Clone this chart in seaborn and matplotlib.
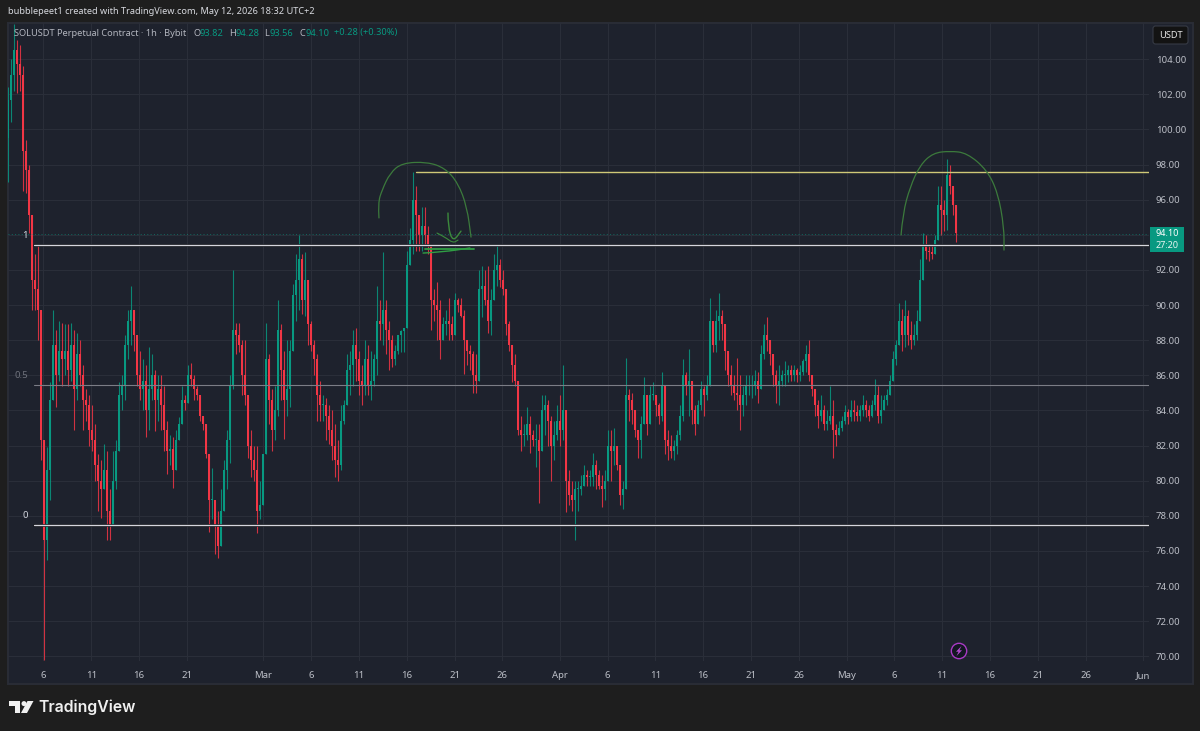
import numpy as np
import pandas as pd
import seaborn as sns
import matplotlib
matplotlib.use("Agg")
import matplotlib.pyplot as plt
import matplotlib.dates as mdates
import matplotlib.patheffects as pe
from matplotlib.patches import Rectangle, Polygon, Circle, FancyBboxPatch, PathPatch
from matplotlib.path import Path
from matplotlib.transforms import Bbox

# SOLUSDT candles, sampled every 452 minutes from the start of the visible range
highs = [
    102.4,104.0,106.0,105.1,104.8,103.6,99.4,98.0,94.4,
    92.9,93.4,88.0,81.6,81.9,85.6,89.7,88.6,89.1,89.0,
    88.9,88.9,89.0,88.6,88.4,88.0,86.6,85.2,84.9,
    84.3,83.2,81.5,81.2,82.1,81.7,79.5,81.7,82.3,
    85.6,86.0,88.3,89.7,91.1,89.4,88.3,87.4,86.9,
    86.6,87.6,87.2,86.3,86.0,86.0,85.4,83.4,82.6,
    82.5,82.9,83.6,85.4,84.9,86.6,86.7,86.0,85.4,
    84.9,83.7,83.2,81.2,80.7,78.9,78.3,79.5,81.2,
    82.9,86.0,92.0,89.0,89.0,88.0,88.0,84.6,82.9,
    82.0,82.0,80.0,81.3,89.0,87.2,85.2,85.4,90.3,
    88.9,87.4,88.0,88.0,91.2,92.9,94.0,92.9,93.0,
    89.9,89.1,88.0,87.2,85.7,84.9,84.7,84.3,84.0,
    83.2,82.3,84.3,84.6,87.2,87.4,88.6,88.7,87.4,
    86.6,88.0,87.7,87.4,87.2,91.1,90.3,93.0,90.3,
    89.1,88.3,87.7,88.3,88.6,88.7,93.1,94.4,97.6,
    96.8,95.1,95.6,95.6,94.5,93.4,90.9,91.3,90.3,
    89.3,89.7,90.4,89.4,90.7,90.4,90.4,89.7,88.0,
    87.7,87.4,87.2,92.0,92.2,92.0,92.2,90.9,92.9,
    93.4,92.6,92.0,90.9,89.1,87.7,87.2,85.7,83.7,
    83.2,84.2,83.7,82.9,83.2,83.2,84.9,84.9,84.6,
    83.7,83.4,84.3,84.9,86.6,83.2,80.6,80.0,80.0,
    80.0,80.3,80.9,80.6,80.6,81.6,81.2,80.6,80.3,
    80.6,82.9,82.9,83.0,82.0,80.9,80.0,87.0,85.2,
    85.0,84.0,82.9,83.7,85.9,84.9,85.4,85.6,84.9,
    84.4,86.2,85.4,82.9,82.6,82.3,82.9,84.3,86.9,
    86.2,87.5,85.7,84.3,84.6,85.7,85.4,86.0,90.4,
    89.1,89.7,90.7,89.7,88.6,86.9,86.6,86.0,87.0,
    86.0,85.4,86.0,86.0,86.0,86.3,86.2,87.7,88.9,
    89.3,88.0,87.2,86.3,86.6,86.3,86.8,86.6,86.6,
    86.6,86.4,86.6,86.9,87.7,88.0,86.0,85.2,84.6,
    84.9,84.3,84.0,85.4,84.6,83.2,83.4,83.7,84.3,
    84.1,84.6,84.6,84.3,84.3,84.9,84.6,84.3,84.6,
    85.8,85.4,84.9,84.9,85.2,86.0,87.4,88.0,90.1,
    89.8,90.3,89.7,89.1,88.9,89.7,92.6,94.1,94.0,
    93.5,93.4,94.0,96.8,96.8,96.0,98.3,98.0,96.8,95.7,
]
lows = [
    97.0,100.4,102.2,102.1,102.2,96.5,96.4,94.1,89.7,
    89.7,88.0,81.2,69.8,75.5,78.9,85.2,84.2,85.7,85.4,
    86.0,85.4,85.7,82.9,84.6,85.4,82.9,83.4,82.0,
    81.7,80.0,78.3,77.9,79.5,76.6,76.6,77.5,79.5,
    83.4,84.0,84.6,86.9,87.7,87.4,85.4,84.6,84.0,
    82.5,82.9,84.6,82.8,83.4,82.9,81.7,80.4,80.9,
    79.6,81.7,82.3,84.0,84.0,84.6,85.4,84.6,84.6,
    83.4,82.9,81.3,77.1,77.8,75.8,75.6,76.3,79.5,
    79.5,81.0,85.2,87.2,87.3,84.9,84.3,81.3,80.2,
    80.0,77.0,77.8,78.6,83.4,83.2,81.7,82.3,83.7,
    84.6,82.4,83.7,84.2,88.4,89.1,89.7,89.5,89.4,
    87.7,87.4,86.0,83.4,83.4,83.4,82.3,82.1,81.2,
    80.2,80.0,80.6,83.2,84.6,84.9,85.4,85.7,84.9,
    84.3,84.9,84.9,84.6,85.4,86.0,88.0,87.7,87.2,
    86.3,86.5,86.6,87.2,87.3,87.3,88.9,92.3,92.9,
    93.1,93.1,93.1,93.4,92.9,88.6,89.1,88.0,86.9,
    88.0,88.3,88.0,88.0,89.4,89.6,89.3,86.1,86.6,
    86.3,85.0,85.0,85.7,89.3,90.0,88.4,88.3,90.6,
    91.1,91.0,90.6,88.3,87.4,85.6,85.4,82.6,81.7,
    82.0,82.3,81.6,82.0,80.8,78.7,82.9,82.6,82.0,
    80.0,81.2,82.3,82.0,82.3,78.2,78.6,78.3,76.6,
    78.3,79.2,79.7,79.7,79.7,79.7,79.5,79.5,78.5,
    78.9,80.3,80.0,80.9,80.6,78.6,78.4,79.5,83.4,
    83.2,82.5,81.3,81.3,83.2,82.6,83.2,84.6,83.7,
    83.2,83.4,81.5,81.2,81.3,81.2,81.5,82.3,83.4,
    84.9,83.7,83.2,82.6,83.2,84.0,83.7,84.6,86.6,
    87.3,87.3,88.0,88.0,86.3,85.4,84.9,84.6,84.0,
    82.9,83.7,84.3,84.9,84.7,84.9,84.4,85.4,86.9,
    87.4,86.6,85.4,84.4,84.3,85.4,85.4,85.6,85.7,
    85.7,85.6,85.7,86.0,86.2,85.7,84.8,83.7,83.0,
    83.4,82.9,82.9,83.2,81.3,82.0,82.6,82.8,83.2,
    83.2,83.4,83.4,83.4,83.4,83.7,83.6,83.4,83.6,
    84.0,83.3,83.3,84.1,84.3,84.9,85.7,86.6,87.7,
    87.4,87.6,87.7,87.5,87.7,88.0,89.1,92.0,92.6,
    92.5,92.6,92.9,93.7,94.0,94.2,94.3,96.3,95.1,93.6,
]
closes = [
    101.7,103.1,104.5,103.7,103.1,98.8,97.7,95.1,91.4,
    90.9,89.7,82.3,76.6,80.6,84.6,87.7,86.0,87.4,86.9,
    87.4,86.3,87.7,85.2,87.2,86.0,84.6,84.3,82.9,
    82.3,80.9,80.0,79.5,80.6,78.3,77.5,80.0,81.7,
    84.9,85.4,87.7,89.1,89.7,88.3,86.0,85.2,85.7,
    84.0,85.2,86.0,84.6,85.2,84.3,82.9,81.7,81.8,
    80.6,82.3,83.2,84.6,84.4,86.0,85.8,85.2,84.9,
    83.7,83.2,81.5,78.9,78.9,77.5,76.3,78.3,80.6,
    82.3,85.4,88.6,88.3,87.7,86.0,84.9,82.0,81.2,
    80.6,78.3,78.6,81.5,86.9,84.6,82.9,84.0,88.6,
    86.3,84.6,85.2,87.4,90.6,91.4,92.6,90.3,91.4,
    88.9,87.7,86.9,84.9,84.3,84.3,83.7,82.9,82.0,
    81.2,80.9,83.4,84.3,86.3,86.6,87.7,86.9,85.7,
    85.4,86.9,85.4,85.7,86.9,89.1,88.9,89.7,88.6,
    88.0,86.9,87.4,88.3,88.5,88.7,92.3,93.7,96.0,
    95.1,94.0,94.5,94.0,93.4,90.3,90.0,89.7,88.0,
    88.9,89.1,88.9,88.3,90.3,90.0,89.4,88.0,87.4,
    87.2,86.0,85.7,90.9,91.1,90.3,89.1,90.3,92.0,
    92.3,91.4,90.9,88.9,87.7,86.6,85.7,82.9,82.6,
    82.6,83.2,82.6,82.3,82.3,81.7,84.0,84.3,83.4,
    82.0,82.6,83.4,82.9,84.0,80.0,79.2,78.9,79.5,
    79.5,79.7,80.3,80.2,80.2,80.9,80.3,79.7,79.5,
    80.0,82.0,81.7,82.0,80.9,79.2,79.5,84.9,84.6,
    84.0,82.9,82.3,83.2,84.9,83.2,84.9,84.9,84.3,
    83.7,85.4,82.3,82.0,81.7,82.0,82.6,83.7,86.0,
    85.4,85.7,84.0,83.2,84.3,85.2,84.9,85.4,89.1,
    87.7,89.1,89.4,88.9,87.4,86.0,85.4,85.0,84.9,
    84.3,84.9,85.4,85.4,85.4,85.7,85.2,87.2,88.3,
    88.0,87.2,86.0,85.4,85.7,86.0,86.0,86.3,86.0,
    86.3,86.0,86.2,86.8,87.2,86.0,85.2,84.3,83.7,
    84.0,83.2,83.4,83.7,82.9,82.6,83.0,83.4,83.9,
    83.6,84.0,83.9,83.7,84.0,84.3,84.0,83.7,84.3,
    84.9,83.7,84.0,84.6,84.9,85.7,86.9,87.7,89.1,
    88.3,89.4,88.3,88.0,88.3,89.1,91.4,93.4,93.1,
    93.0,92.9,93.7,95.7,95.4,95.1,97.4,96.8,95.7,94.1,
]
first_open = 99.5

price_ticks = list(range(70, 106, 2))
date_ticks = ["2026-02-06", "2026-02-11", "2026-02-16", "2026-02-21", "2026-03-01", "2026-03-06",
              "2026-03-11", "2026-03-16", "2026-03-21", "2026-03-26", "2026-04-01", "2026-04-06",
              "2026-04-11", "2026-04-16", "2026-04-21", "2026-04-26", "2026-05-01", "2026-05-06",
              "2026-05-11", "2026-05-16", "2026-05-21", "2026-05-26", "2026-06-01"]
date_labels = ["6", "11", "16", "21", "Mar", "6", "11", "16", "21", "26", "Apr", "6", "11", "16",
               "21", "26", "May", "6", "11", "16", "21", "26", "Jun"]

fib_levels = [1.0, 0.5, 0.0]
fib_prices = [93.4, 85.44, 77.5]
resistance_price = 97.57
last_price = 94.05

# freehand drawings: (days after Feb 6, price)
arc_left = [(35.09, 94.96), (34.99, 95.81), (35.41, 96.55), (36.25, 97.52), (37.50, 98.09), (40.12, 98.15),
            (42.0, 97.80), (43.36, 96.95), (44.30, 95.58), (44.72, 93.87)]
arc_right = [(89.7, 93.99), (89.9, 95.24), (90.64, 96.72), (91.69, 97.97), (93.05, 98.66), (94.82, 98.77),
             (96.6, 98.66), (98.69, 97.69), (99.84, 96.38), (100.47, 94.44), (100.47, 93.13)]
hook_a = [(42.31, 95.24), (42.31, 94.44), (42.83, 93.59), (43.67, 94.21)]
hook_b = [(41.16, 94.10), (42.0, 93.87), (42.83, 93.53), (43.36, 93.70)]
scribble_a = [(39.9, 93.19), (45.03, 93.19)]
scribble_b = [(39.7, 92.96), (41.79, 93.02), (44.6, 93.25)]

PANEL = "#1e222d"
OUTER = "#1e1e1e"
GRID = "#2a2e39"
UP = "#089981"
DOWN = "#f23645"
TEXT = "#b2b5be"
W, H = 1200, 731

sns.set_theme(style="darkgrid", rc={
    "axes.facecolor": PANEL, "figure.facecolor": OUTER, "grid.color": GRID, "grid.linewidth": 0.8,
    "axes.edgecolor": PANEL, "font.family": ["Noto Sans", "DejaVu Sans"],
})

fig = plt.figure(figsize=(W / 100, H / 100), dpi=100, facecolor=OUTER)


def box(x0, y0, x1, y1):
    """Figure rectangle from pixel edges, y counted from the top."""
    return [x0 / W, 1 - y1 / H, (x1 - x0) / W, (y1 - y0) / H]


# Window chrome behind the chart
back = fig.add_axes([0, 0, 1, 1], zorder=0)
back.set_xlim(0, W)
back.set_ylim(H, 0)
back.axis("off")
back.add_patch(Rectangle((7.5, 22.5), 1185, 661, facecolor=PANEL, edgecolor="#2a2d36", lw=1.4))

ax = fig.add_axes(box(8, 23, 1149, 660.5), zorder=1)
ax.patch.set_alpha(0)

day0 = mdates.date2num(pd.Timestamp("2026-02-06"))
px_per_day = 9.56
ax.set_xlim(day0 + (8 - 43.5) / px_per_day, day0 + (1149 - 43.5) / px_per_day)
ax.set_ylim(69.76, 106.06)

times = pd.date_range("2026-02-02 07:00", periods=len(closes), freq="452min")
x = mdates.date2num(times)
c = np.array(closes)
o = np.r_[first_open, c[:-1]]
hi = np.maximum(np.array(highs), np.maximum(o, c))
lo = np.minimum(np.array(lows), np.minimum(o, c))
colors = np.where(c >= o, UP, DOWN)

ax.vlines(x, lo, hi, colors=colors, lw=0.8, alpha=0.85, zorder=3)
ax.bar(x, np.maximum(np.abs(c - o), 0.06), bottom=np.minimum(o, c), width=0.25, color=colors,
       linewidth=0, zorder=3)

# Horizontal levels
end_day = day0 + (1149 - 43.5) / px_per_day
fib_start = day0 - 0.99
frame = pd.DataFrame({
    "x": [fib_start, end_day] * 3,
    "price": np.repeat(fib_prices, 2),
    "level": np.repeat(fib_levels, 2),
})
halo = [pe.Stroke(linewidth=1.9, foreground="#0c0e13"), pe.Normal()]
for lvl, width, col, fx in [(1.0, 1.0, "#d6d6de", halo), (0.5, 0.8, "#7b7d86", None), (0.0, 1.0, "#d6d6de", halo)]:
    line = sns.lineplot(data=frame[frame.level == lvl], x="x", y="price", color=col, lw=width, ax=ax,
                        zorder=5, errorbar=None, legend=False).lines[-1]
    if fx:
        line.set_path_effects(fx)
res_frame = pd.DataFrame({"x": [day0 + (416 - 43.5) / px_per_day, end_day], "price": [resistance_price] * 2})
sns.lineplot(data=res_frame, x="x", y="price", color="#cfc877", lw=1.0, ax=ax, zorder=5, errorbar=None)
ax.axhline(last_price, color=UP, lw=0.7, ls=(0, (1, 2.4)), zorder=4, alpha=0.6)


def sketch(points, color, lw):
    """Smooth freehand stroke through the given (day, price) points."""
    pts = np.array([(day0 + d, p) for d, p in points])
    verts, codes = [pts[0]], [Path.MOVETO]
    for a, b in zip(pts[1:-1], pts[2:]):
        verts += [a, (a + b) / 2]
        codes += [Path.CURVE3, Path.CURVE3]
    verts.append(pts[-1])
    codes.append(Path.LINETO)
    ax.add_patch(PathPatch(Path(verts, codes), fill=False, edgecolor=color, lw=lw, zorder=6, capstyle="round"))


sketch(arc_left, "#3c7a3c", 0.9)
sketch(arc_right, "#3c7a3c", 0.9)
sketch(hook_a, "#3c8a3c", 1.0)
sketch(hook_b, "#3c8a3c", 0.8)
sketch(scribble_a, "#2f9e44", 1.3)
sketch(scribble_b, "#2f9e44", 1.0)

# Axes
ax.set_xlabel("")
ax.set_ylabel("")
tick_x = mdates.date2num(pd.to_datetime(date_ticks))
ax.set_xticks(tick_x)
ax.set_xticklabels(date_labels)
ax.yaxis.tick_right()
ax.set_yticks(price_ticks)
ax.set_yticklabels([f"{p:.2f}" for p in price_ticks])
ax.tick_params(axis="both", length=0, colors="#bcbfc7", labelsize=6.9)
ax.tick_params(axis="x", pad=7.5)
ax.tick_params(axis="y", pad=5)
ax.grid(True, color=GRID, lw=0.8)
ax.set_axisbelow(True)
for side in ax.spines.values():
    side.set_visible(False)
for lab in ax.get_xticklabels():
    lab.set_clip_box(Bbox([[0, 0], [1149, H]]))
    lab.set_clip_on(True)
    if lab.get_text() in ("Mar", "Apr", "May", "Jun"):
        lab.set_fontweight("semibold")

# Foreground texts and badges
top = fig.add_axes([0, 0, 1, 1], zorder=2)
top.set_xlim(0, W)
top.set_ylim(H, 0)
top.axis("off")
top.patch.set_alpha(0)

top.text(8, 11.5, "bubblepeet1 created with TradingView.com, May 12, 2026 18:32 UTC+2", color="#d8dae0",
         fontsize=6.6, va="center", ha="left", fontweight="medium")
top.text(14, 33, "SOLUSDT Perpetual Contract · 1h · Bybit", color=TEXT, fontsize=6.65, va="center")
for xpos, txt, col in [(193, "O", TEXT), (200, "93.82", UP), (229, "H", TEXT), (236, "94.28", UP), (264, "L", TEXT),
                       (270, "93.56", UP), (299, "C", TEXT), (305, "94.10", UP), (334, "+0.28 (+0.30%)", UP)]:
    top.text(xpos, 33, txt, color=col, fontsize=6.65, va="center")

for lab, ypos, xpos, col in [("1", 235, 25, "#d1d4dc"), ("0.5", 375, 21, "#6f727c"), ("0", 515, 25, "#d1d4dc")]:
    top.text(xpos, ypos, lab, color=col, fontsize=6.9, va="center", ha="center")

top.add_patch(FancyBboxPatch((1153, 26), 35, 18, boxstyle="round,pad=0,rounding_size=2.5",
                             facecolor="#131313", edgecolor="#363a45", lw=0.8))
top.text(1170.5, 35.5, "USDT", color="#e6e6e6", fontsize=6.7, ha="center", va="center")

top.add_patch(Rectangle((1150, 227), 34, 25, facecolor=UP, edgecolor="none"))
top.text(1167, 233.5, "94.10", color="white", fontsize=6.5, ha="center", va="center")
top.text(1167, 245.5, "27:20", color="#e8f5f2", fontsize=6.5, ha="center", va="center")

top.add_patch(Circle((959, 651), 7.7, facecolor="#131722", edgecolor="#a83ac4", lw=1.0))
top.add_patch(Polygon([(961.5, 646), (956, 651.7), (958.6, 651.7), (956.5, 656), (962, 650.3), (959.4, 650.3)],
                      closed=True, facecolor="#b44ad0", edgecolor="none"))

# TradingView mark and wordmark
top.add_patch(Polygon([(9, 701), (20, 701), (20, 713), (15, 713), (15, 706), (9, 706)], closed=True,
                      facecolor="#f0f0f0", edgecolor="none"))
top.add_patch(Circle((24, 703.6), 2.5, facecolor="#f0f0f0", edgecolor="none"))
top.add_patch(Polygon([(27.5, 701), (33.5, 701), (27, 713), (21, 713)], closed=True, facecolor="#f0f0f0",
                      edgecolor="none"))
top.text(38.5, 707, "TradingView", color="#f0f0f0", fontsize=11.4, fontweight="semibold", family="Inter",
         va="center", ha="left")

fig.savefig("out.png", dpi=100, facecolor=OUTER)
